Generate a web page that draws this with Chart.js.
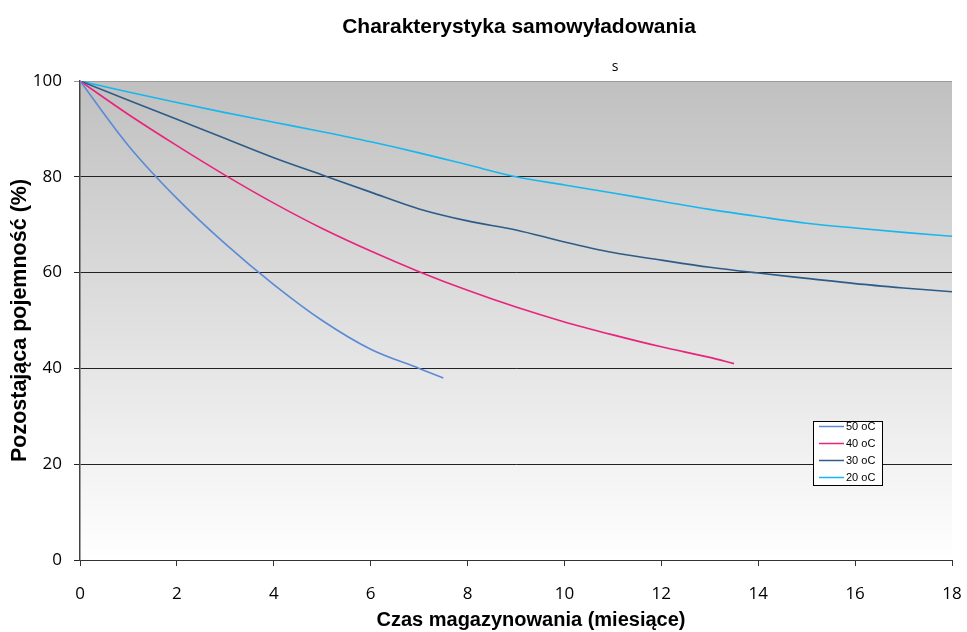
<!DOCTYPE html>
<html>
<head>
<meta charset="utf-8">
<script src="https://cdn.jsdelivr.net/npm/chart.js@4/dist/chart.umd.min.js"></script>
<style>
  html, body { margin: 0; padding: 0; background: #fff; }
  #wrap { width: 967px; height: 632px; position: relative; }
</style>
</head>
<body>
<div id="wrap"><canvas id="chart"></canvas></div>
<script>
var chartTitle = 'Charakterystyka samowyładowania';
var xTitle = 'Czas magazynowania (miesiące)';
var yTitle = 'Pozostająca pojemność (%)';

var seriesLabels = ['50 oC', '40 oC', '30 oC', '20 oC'];
var seriesColors = ['#5b8ad6', '#e8237d', '#2d5c88', '#18b6ef'];

var months50 = [0, 1, 2, 3, 4, 5, 6, 7, 7.5];
var cap50 = [100, 86.5, 75.5, 66, 57.5, 50, 44, 40, 38];

var months40 = [0, 1, 2, 3, 4, 5, 6, 7, 8, 9, 10, 11, 12, 13, 13.5];
var cap40 = [100, 93, 86.5, 80.3, 74.5, 69.2, 64.5, 60.2, 56.3, 52.8, 49.7, 47, 44.5, 42.3, 41];

var months30 = [0, 1, 2, 3, 4, 5, 6, 7, 8, 9, 10, 11, 12, 13, 14, 15, 16, 17, 18];
var cap30 = [100, 96, 92, 88, 84, 80.4, 76.8, 73.3, 70.8, 68.9, 66.4, 64.2, 62.6, 61.1, 59.9, 58.8, 57.7, 56.8, 56];

var months20 = [0, 1, 2, 3, 4, 5, 6, 7, 8, 9, 10, 11, 12, 13, 14, 15, 16, 17, 18];
var cap20 = [100, 97.7, 95.5, 93.4, 91.4, 89.4, 87.3, 85, 82.5, 80, 78.3, 76.6, 74.9, 73.2, 71.7, 70.3, 69.3, 68.4, 67.6];

var xTicks = [0, 2, 4, 6, 8, 10, 12, 14, 16, 18];
var yTicks = [0, 20, 40, 60, 80, 100];

function toPoints(xs, ys) {
    return xs.map(function (x, i) { return { x: x, y: ys[i] }; });
}

var allMonths = [months50, months40, months30, months20];
var allCaps = [cap50, cap40, cap30, cap20];

var datasets = seriesLabels.map(function (lbl, i) {
    return {
        label: lbl,
        data: toPoints(allMonths[i], allCaps[i]),
        borderColor: seriesColors[i],
        backgroundColor: seriesColors[i],
        borderWidth: 1.6,
        pointRadius: 0,
        cubicInterpolationMode: 'monotone',
        fill: false
    };
});

// plot area gradient background
var bgPlugin = {
    id: 'plotBg',
    beforeDraw: function (chart) {
        var a = chart.chartArea;
        var ctx = chart.ctx;
        var g = ctx.createLinearGradient(0, a.top, 0, a.bottom);
        g.addColorStop(0, '#c0c0c0');
        g.addColorStop(1, '#ffffff');
        ctx.save();
        ctx.fillStyle = g;
        ctx.fillRect(a.left, a.top, a.right - a.left, a.bottom - a.top);
        ctx.restore();
    }
};

// titles, small legend box inside plot, stray "s" label
var textPlugin = {
    id: 'texts',
    afterDraw: function (chart) {
        var ctx = chart.ctx;
        ctx.save();
        ctx.fillStyle = '#000';
        ctx.textAlign = 'center';
        ctx.textBaseline = 'alphabetic';
        ctx.font = 'bold 21px "Liberation Sans", Arial, sans-serif';
        ctx.fillText(chartTitle, 519, 32.5);
        ctx.font = 'bold 20px "Liberation Sans", Arial, sans-serif';
        ctx.fillText(xTitle, 531, 626);
        ctx.font = '14px "Open Sans", sans-serif';
        ctx.fillText('s', 615, 71);

        var bx = 813, by = 421, bw = 69, bh = 64;
        ctx.fillStyle = '#ffffff';
        ctx.fillRect(bx, by, bw, bh);
        ctx.strokeStyle = '#000000';
        ctx.lineWidth = 1;
        ctx.strokeRect(bx + 0.5, by + 0.5, bw, bh);
        ctx.font = '11px "Liberation Sans", Arial, sans-serif';
        ctx.textAlign = 'left';
        ctx.textBaseline = 'middle';
        chart.data.datasets.forEach(function (ds, i) {
            var y = by + 5.5 + i * 17;
            ctx.strokeStyle = ds.borderColor;
            ctx.lineWidth = 1.5;
            ctx.beginPath();
            ctx.moveTo(bx + 6, y);
            ctx.lineTo(bx + 31, y);
            ctx.stroke();
            ctx.fillStyle = '#000';
            ctx.fillText(ds.label, bx + 33, y + 0.5);
        });
        ctx.restore();
    }
};

var tickFont = { family: '"Open Sans", "Noto Sans", sans-serif', size: 17 };

new Chart(document.getElementById('chart'), {
    type: 'line',
    data: { datasets: datasets },
    plugins: [bgPlugin, textPlugin],
    options: {
        responsive: true,
        maintainAspectRatio: false,
        animation: false,
        layout: { padding: { left: 0, right: 15, top: 81, bottom: 0 } },
        plugins: {
            legend: { display: false },
            tooltip: { enabled: false },
            title: { display: false }
        },
        scales: {
            x: {
                type: 'linear',
                min: 0,
                max: 18,
                afterBuildTicks: function (s) { s.ticks = xTicks.map(function (v) { return { value: v }; }); },
                afterFit: function (s) { s.height = 72; s.paddingLeft = 0; s.paddingRight = 0; },
                ticks: { color: '#000', font: tickFont, padding: 18, maxRotation: 0 },
                grid: { drawOnChartArea: false, drawTicks: true, tickLength: 6, color: '#333' },
                border: { color: '#333', width: 1 },
                title: { display: false }
            },
            y: {
                min: 0,
                max: 100,
                afterBuildTicks: function (s) { s.ticks = yTicks.map(function (v) { return { value: v }; }); },
                afterFit: function (s) { s.width = 80; s.paddingTop = 0; s.paddingBottom = 0; },
                ticks: { color: '#000', font: tickFont, padding: 12 },
                grid: {
                    drawTicks: true,
                    tickLength: 6,
                    color: function (c) { return c.tick && c.tick.value === 100 ? '#9a9a9a' : '#222'; },
                    lineWidth: 1
                },
                border: { color: '#444', width: 1.5 },
                title: { display: true, text: yTitle, color: '#000',
                    font: { family: '"Liberation Sans", Arial, sans-serif', size: 21.5, weight: 'bold' }, padding: { top: 7, bottom: 0 } }
            }
        }
    }
});
</script>
</body>
</html>
